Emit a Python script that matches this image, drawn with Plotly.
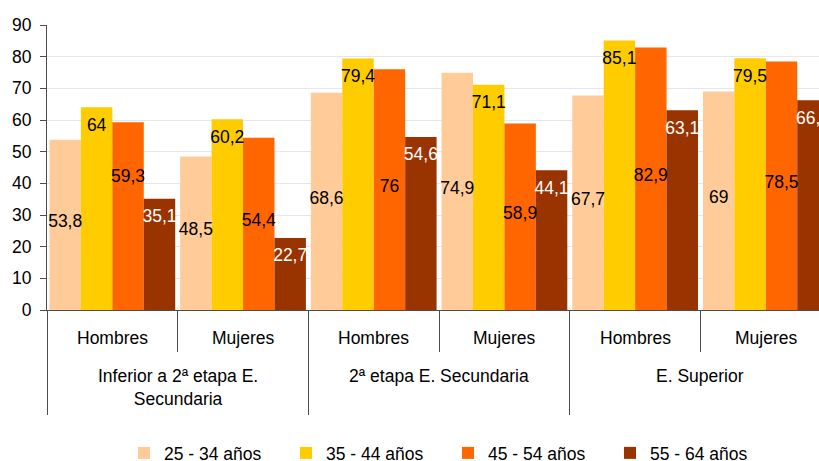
import plotly.graph_objects as go

# ---- data ----
groups = ["Inferior a 2ª etapa E.<br>Secundaria", "2ª etapa E. Secundaria", "E. Superior"]
sexes = ["Hombres", "Mujeres"]
series_names = ["25 - 34 años", "35 - 44 años", "45 - 54 años", "55 - 64 años"]
s_25_34 = [53.8, 48.5, 68.6, 74.9, 67.7, 69]
s_35_44 = [64, 60.2, 79.4, 71.1, 85.1, 79.5]
s_45_54 = [59.3, 54.4, 76, 58.9, 82.9, 78.5]
s_55_64 = [35.1, 22.7, 54.6, 44.1, 63.1, 66.2]
y_ticks = [0, 10, 20, 30, 40, 50, 60, 70, 80, 90]

# ---- style ----
colors = ["#FFCC99", "#FFCC00", "#FF6600", "#993300"]
label_colors = ["#000000", "#000000", "#000000", "#FFFFFF"]
label_anchor = ["middle", "top", "middle", "top"]
moved_label = {(2, 0): 41.9}  # a label dragged up in the original
FONT = "Liberation Sans, Arial, sans-serif"
FS = 17.5
AXC = "#4D4D4D"
BARGAP = 0.038
n_cat = len(groups) * len(sexes)
XRANGE = [-0.5, 5.407]

all_series = [s_25_34, s_35_44, s_45_54, s_55_64]
cat_pos = list(range(n_cat))
fig = go.Figure()

for k, (name, vals) in enumerate(zip(series_names, all_series)):
    fig.add_trace(go.Bar(
        x=cat_pos, y=vals, name=name,
        marker=dict(color=colors[k], line=dict(width=0)),
    ))

w = (1 - BARGAP) / len(all_series)
for k, vals in enumerate(all_series):
    xs, ys, txt = [], [], []
    for i, v in enumerate(vals):
        xs.append(i + (k - (len(all_series) - 1) / 2) * w)
        if (k, i) in moved_label:
            ys.append(moved_label[(k, i)])
        elif label_anchor[k] == "middle":
            ys.append(v / 2 + 0.7)
        else:
            ys.append(v - 6)
        txt.append(f"{v:g}".replace(".", ","))
    fig.add_trace(go.Scatter(
        x=xs, y=ys, text=txt, mode="text",
        textfont=dict(family=FONT, size=FS, color=label_colors[k]),
        showlegend=False, hoverinfo="skip", cliponaxis=False,
    ))

# two-level category labels
annotations = []
for i in range(n_cat):
    annotations.append(dict(
        x=i, y=0, xref="x", yref="paper", text=sexes[i % len(sexes)],
        showarrow=False, yanchor="middle", yshift=-28,
        font=dict(family=FONT, size=FS, color="#000000")))
for g, name in enumerate(groups):
    annotations.append(dict(
        x=g * len(sexes) + (len(sexes) - 1) / 2, y=0, xref="x", yref="paper",
        text=name, showarrow=False, yanchor="top", yshift=-54,
        font=dict(family=FONT, size=FS, color="#000000")))

outer_bounds = [g * len(sexes) - 0.5 for g in range(len(groups) + 1)]
inner_bounds = [g * len(sexes) + 0.5 for g in range(len(groups))]

fig.update_layout(
    width=819, height=461,
    margin=dict(l=47, r=0, t=25, b=151, autoexpand=False),
    paper_bgcolor="white", plot_bgcolor="white",
    barmode="group", bargap=BARGAP, bargroupgap=0,
    font=dict(family=FONT, size=FS, color="#000000"),
    showlegend=True,
    legend=dict(orientation="h", xref="paper", yref="paper",
                x=0.5194, xanchor="center", y=-0.5018, yanchor="middle",
                font=dict(family=FONT, size=FS, color="#000000"),
                entrywidth=117, traceorder="normal"),
    annotations=annotations,
    xaxis=dict(range=XRANGE, showgrid=False, zeroline=False, automargin=False,
               showline=True, linecolor=AXC, linewidth=1,
               tickmode="array", tickvals=outer_bounds, showticklabels=False,
               ticks="outside", ticklen=104, tickcolor=AXC, tickwidth=1,
               minor=dict(tickmode="array", tickvals=inner_bounds, ticks="outside",
                          ticklen=41, tickcolor=AXC, tickwidth=1, showgrid=False)),
    yaxis=dict(range=[0, 90], tickvals=y_ticks, showgrid=True, automargin=False,
               gridcolor="#E6E6EF", gridwidth=1,
               showline=True, linecolor=AXC, linewidth=1,
               ticks="outside", ticklen=6, tickcolor=AXC, ticklabelstandoff=5,
               zeroline=False,
               tickfont=dict(family=FONT, size=FS, color="#000000")),
)

# place the 819x461 figure flush with the page so nothing scrolls or shifts
fig.write_html("out.html",
               config={"displayModeBar": False},
               post_script="document.body.style.margin='0';"
                           "document.body.style.overflow='hidden';")
